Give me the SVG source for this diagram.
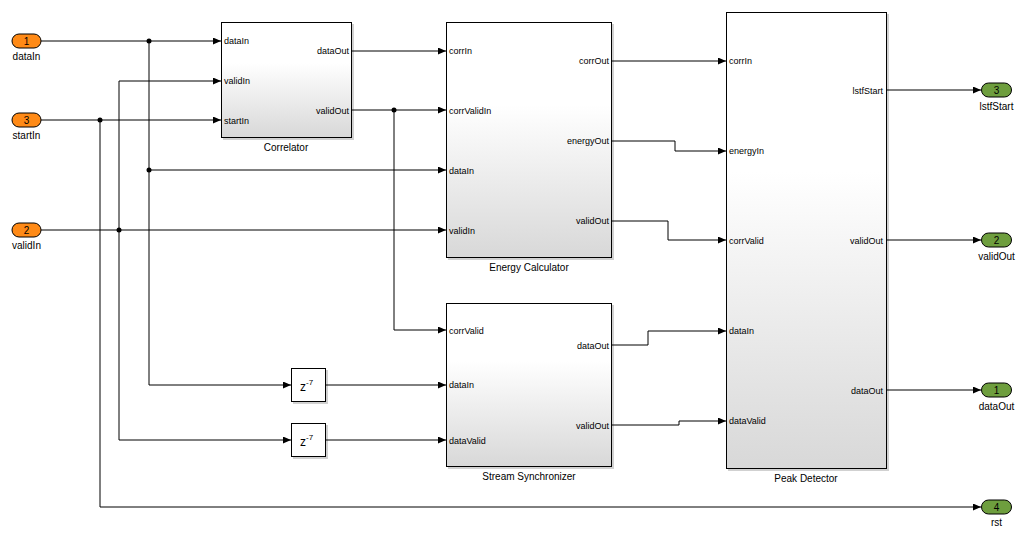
<svg xmlns="http://www.w3.org/2000/svg" width="1026" height="540" viewBox="0 0 1026 540">
<style>
  .blk { stroke: #000; stroke-width: 1; fill: url(#grad); }
  .dly { stroke: #000; stroke-width: 1; fill: #fff; }
  .shd { fill: #000; opacity: 0.18; }
  .port { font-family: "Liberation Sans", Arial, sans-serif; font-size: 9px; fill: #000; }
  .name { font-family: "Liberation Sans", Arial, sans-serif; font-size: 10px; fill: #000; text-anchor: middle; }
  .num { font-family: "Liberation Sans", Arial, sans-serif; font-size: 10px; fill: #000; text-anchor: middle; }
  .inp { fill: #FF8A16; stroke: #000; stroke-width: 1; }
  .outp { fill: #6E9E3E; stroke: #000; stroke-width: 1; }
  .wire { fill: none; stroke: #000; stroke-width: 1; }
  .wa { fill: none; stroke: #000; stroke-width: 1; marker-end: url(#arr); }
  .dot { fill: #000; }
  .ri { text-anchor: end; }
</style>
<defs>
  <linearGradient id="grad" x1="0" y1="0" x2="0" y2="1">
    <stop offset="0" stop-color="#FFFFFF"/>
    <stop offset="0.35" stop-color="#FFFFFF"/>
    <stop offset="1" stop-color="#D8D8D8"/>
  </linearGradient>
  <marker id="arr" markerUnits="userSpaceOnUse" markerWidth="9" markerHeight="8" refX="8" refY="3.5" orient="auto">
    <path d="M0,0 L8,3.5 L0,7 Z" fill="#000"/>
  </marker>
</defs>
<rect width="1026" height="540" fill="#fff"/>

<g id="connectors">
  <path class="wa" d="M41,41 H221"/>
  <path class="wa" d="M149,41 V385 H291"/>
  <path class="wa" d="M149,170 H446"/>
  <path class="wa" d="M41,120 H221"/>
  <path class="wa" d="M100,120 V507 H981"/>
  <path class="wa" d="M41,230 H446"/>
  <path class="wa" d="M119,440 V81 H221"/>
  <path class="wa" d="M119,440 H291"/>
  <path class="wa" d="M352,51 H446"/>
  <path class="wa" d="M352,110 H446"/>
  <path class="wa" d="M394,110 V330 H446"/>
  <path class="wa" d="M326,385 H446"/>
  <path class="wa" d="M326,440 H446"/>
  <path class="wa" d="M612,61 H726"/>
  <path class="wa" d="M612,141 H675 V151 H726"/>
  <path class="wa" d="M612,221 H668 V240 H726"/>
  <path class="wa" d="M612,345 H648 V331 H726"/>
  <path class="wa" d="M612,425 H679 V421 H726"/>
  <path class="wa" d="M887,90 H981"/>
  <path class="wa" d="M887,240 H981"/>
  <path class="wa" d="M887,390 H981"/>
  <circle class="dot" cx="149" cy="41" r="2.5"/>
  <circle class="dot" cx="149" cy="170" r="2.5"/>
  <circle class="dot" cx="100" cy="120" r="2.5"/>
  <circle class="dot" cx="119" cy="230" r="2.5"/>
  <circle class="dot" cx="394" cy="110" r="2.5"/>
</g>

<g id="in1">
  <rect class="inp" x="12" y="34" width="29" height="14" rx="7"/>
  <text class="num" x="26.5" y="44.5">1</text>
  <text class="name" x="26.5" y="60">dataIn</text>
</g>
<g id="in3">
  <rect class="inp" x="12" y="113" width="29" height="14" rx="7"/>
  <text class="num" x="26.5" y="123.5">3</text>
  <text class="name" x="26.5" y="139">startIn</text>
</g>
<g id="in2">
  <rect class="inp" x="12" y="223" width="29" height="14" rx="7"/>
  <text class="num" x="26.5" y="233.5">2</text>
  <text class="name" x="26.5" y="249">validIn</text>
</g>

<g id="correlator">
  <rect class="shd" x="223" y="24" width="131" height="116"/>
  <rect class="blk" x="221.5" y="22.5" width="130" height="115"/>
  <text class="port" x="224" y="44">dataIn</text>
  <text class="port" x="224" y="84">validIn</text>
  <text class="port" x="224" y="123.5">startIn</text>
  <text class="port ri" x="349" y="54">dataOut</text>
  <text class="port ri" x="349" y="113.5">validOut</text>
  <text class="name" x="286" y="151">Correlator</text>
</g>

<g id="energy">
  <rect class="shd" x="448" y="24" width="166" height="236"/>
  <rect class="blk" x="446.5" y="22.5" width="165" height="235"/>
  <text class="port" x="449" y="54">corrIn</text>
  <text class="port" x="449" y="113.5">corrValidIn</text>
  <text class="port" x="449" y="173.5">dataIn</text>
  <text class="port" x="449" y="233.5">validIn</text>
  <text class="port ri" x="609" y="64">corrOut</text>
  <text class="port ri" x="609" y="144">energyOut</text>
  <text class="port ri" x="609" y="224">validOut</text>
  <text class="name" x="529" y="271">Energy Calculator</text>
</g>

<g id="sync">
  <rect class="shd" x="448" y="305" width="166" height="164"/>
  <rect class="blk" x="446.5" y="303.5" width="165" height="163"/>
  <text class="port" x="449" y="333.5">corrValid</text>
  <text class="port" x="449" y="388">dataIn</text>
  <text class="port" x="449" y="443.5">dataValid</text>
  <text class="port ri" x="609" y="348.5">dataOut</text>
  <text class="port ri" x="609" y="428.5">validOut</text>
  <text class="name" x="529" y="480">Stream Synchronizer</text>
</g>

<g id="peak">
  <rect class="shd" x="728" y="14" width="161" height="457"/>
  <rect class="blk" x="726.5" y="12.5" width="160" height="456"/>
  <text class="port" x="729" y="64">corrIn</text>
  <text class="port" x="729" y="154">energyIn</text>
  <text class="port" x="729" y="243.5">corrValid</text>
  <text class="port" x="729" y="334">dataIn</text>
  <text class="port" x="729" y="424">dataValid</text>
  <text class="port ri" x="883" y="93.5">lstfStart</text>
  <text class="port ri" x="883" y="243.5">validOut</text>
  <text class="port ri" x="883" y="393.5">dataOut</text>
  <text class="name" x="806" y="482">Peak Detector</text>
</g>

<g id="delay1">
  <rect class="shd" x="293" y="370" width="35" height="34"/>
  <rect class="dly" x="291.5" y="368.5" width="34" height="33"/>
  <text x="300" y="391" font-family="Liberation Sans, Arial, sans-serif" font-size="12">z<tspan font-size="8" dy="-6">-7</tspan></text>
</g>
<g id="delay2">
  <rect class="shd" x="293" y="425" width="35" height="34"/>
  <rect class="dly" x="291.5" y="423.5" width="34" height="33"/>
  <text x="300" y="446" font-family="Liberation Sans, Arial, sans-serif" font-size="12">z<tspan font-size="8" dy="-6">-7</tspan></text>
</g>

<g id="out3">
  <rect class="outp" x="981.5" y="83" width="30" height="14" rx="7"/>
  <text class="num" x="996.5" y="93.5">3</text>
  <text class="name" x="996.5" y="110">lstfStart</text>
</g>
<g id="out2">
  <rect class="outp" x="981.5" y="233" width="30" height="14" rx="7"/>
  <text class="num" x="996.5" y="243.5">2</text>
  <text class="name" x="996.5" y="260">validOut</text>
</g>
<g id="out1">
  <rect class="outp" x="981.5" y="383" width="30" height="14" rx="7"/>
  <text class="num" x="996.5" y="393.5">1</text>
  <text class="name" x="996.5" y="410">dataOut</text>
</g>
<g id="out4">
  <rect class="outp" x="981.5" y="500" width="30" height="14" rx="7"/>
  <text class="num" x="996.5" y="510.5">4</text>
  <text class="name" x="996.5" y="526">rst</text>
</g>
</svg>
